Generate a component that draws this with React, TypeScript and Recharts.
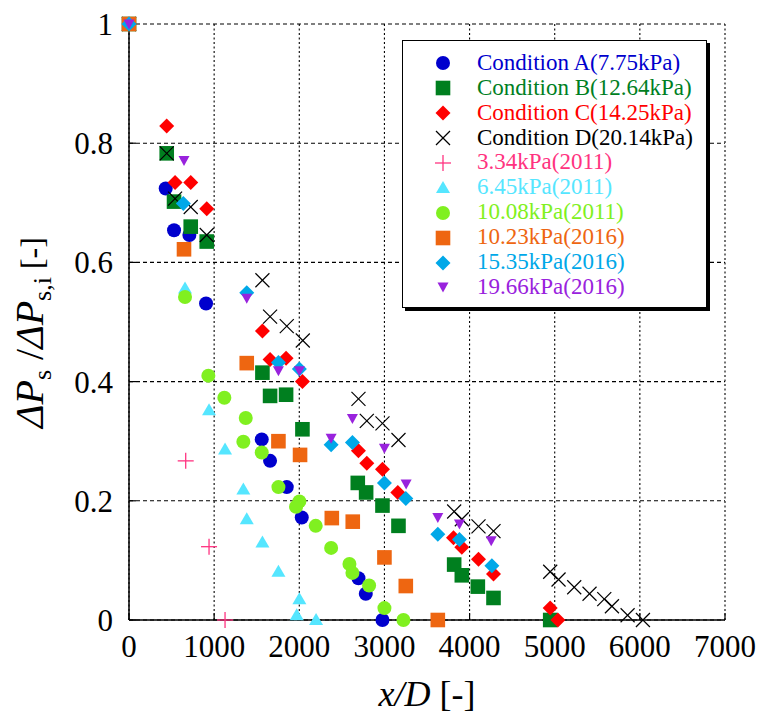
import {
  ScatterChart, Scatter, XAxis, YAxis, CartesianGrid, Legend, Label,
} from 'recharts';

// [x/D, dPs/dPs,i]
const conditionA = [
  [0, 1], [431, 0.724], [529, 0.654], [709, 0.646], [905, 0.531], [1559, 0.303], [1657, 0.267],
  [1853, 0.223], [2029, 0.172], [2695, 0.07], [2781, 0.044], [2977, 0],
];
const conditionB = [
  [0, 1], [443, 0.783], [529, 0.702], [725, 0.66], [913, 0.635], [1567, 0.415], [1657, 0.376],
  [1845, 0.378], [2037, 0.32], [2687, 0.23], [2785, 0.214], [2977, 0.192], [3165, 0.158],
  [3819, 0.093], [3909, 0.075], [4097, 0.056], [4281, 0.037], [4947, 0],
];
const conditionC = [
  [0, 1], [443, 0.829], [541, 0.734], [725, 0.734], [913, 0.69], [1567, 0.485], [1657, 0.437],
  [1845, 0.439], [2037, 0.4], [2695, 0.284], [2793, 0.263], [2977, 0.253], [3157, 0.214],
  [3811, 0.138], [3909, 0.122], [4105, 0.102], [4281, 0.077], [4947, 0.02], [5037, 0],
];
const conditionD = [
  [0, 1], [443, 0.783], [541, 0.707], [725, 0.693], [913, 0.646], [1567, 0.57], [1657, 0.509],
  [1853, 0.493], [2041, 0.469], [2695, 0.371], [2793, 0.334], [2977, 0.33], [3165, 0.302],
  [3819, 0.182], [3909, 0.169], [4105, 0.157], [4281, 0.149], [4947, 0.081], [5045, 0.068],
  [5229, 0.055], [5409, 0.044], [5582, 0.035], [5672, 0.023], [5856, 0.008], [6036, 0],
];
const kpa334_2011 = [[666, 0.267], [940, 0.123], [1128, 0]];
const kpa645_2011 = [
  [658, 0.556], [940, 0.352], [1128, 0.286], [1343, 0.219], [1383, 0.169], [1567, 0.13],
  [1755, 0.081], [2001, 0.035], [1970, 0.008], [2197, 0],
];
const kpa1008_2011 = [
  [658, 0.542], [932, 0.41], [1120, 0.373], [1371, 0.339], [1343, 0.299], [1559, 0.281],
  [1755, 0.223], [2001, 0.199], [1962, 0.19], [2193, 0.158], [2374, 0.121], [2589, 0.094],
  [2624, 0.079], [2820, 0.058], [3000, 0.02], [3223, 0],
];
const kpa1023_2016 = [
  [0, 1], [646, 0.622], [1383, 0.431], [1755, 0.3], [2009, 0.277], [2382, 0.171], [2628, 0.165],
  [3000, 0.105], [3251, 0.057], [3627, 0],
];
const kpa1535_2016 = [
  [0, 1], [638, 0.699], [1383, 0.549], [1755, 0.432], [2001, 0.421], [2374, 0.294], [2624, 0.298],
  [3000, 0.23], [3251, 0.204], [3627, 0.144], [3881, 0.135], [4262, 0.091],
];
const kpa1966_2016 = [
  [0, 1], [646, 0.771], [1383, 0.54], [1755, 0.418], [2001, 0.418], [2374, 0.305], [2624, 0.338],
  [3000, 0.288], [3255, 0.228], [3627, 0.172], [3881, 0.161], [4254, 0.133],
];

const xTicks = [0, 1000, 2000, 3000, 4000, 5000, 6000, 7000];
const yTicks = [0, 0.2, 0.4, 0.6, 0.8, 1];

type Kind = 'circle' | 'square' | 'diamond' | 'x' | 'plus' | 'tri' | 'tridown';

const series: { name: string; data: number[][]; kind: Kind; color: string }[] = [
  { name: 'Condition A(7.75kPa)', data: conditionA, kind: 'circle', color: '#0000cd' },
  { name: 'Condition B(12.64kPa)', data: conditionB, kind: 'square', color: '#007f1f' },
  { name: 'Condition C(14.25kPa)', data: conditionC, kind: 'diamond', color: '#ff0000' },
  { name: 'Condition D(20.14kPa)', data: conditionD, kind: 'x', color: '#000000' },
  { name: '3.34kPa(2011)', data: kpa334_2011, kind: 'plus', color: '#ff3380' },
  { name: '6.45kPa(2011)', data: kpa645_2011, kind: 'tri', color: '#55e6ff' },
  { name: '10.08kPa(2011)', data: kpa1008_2011, kind: 'circle', color: '#80f020' },
  { name: '10.23kPa(2016)', data: kpa1023_2016, kind: 'square', color: '#ee6611' },
  { name: '15.35kPa(2016)', data: kpa1535_2016, kind: 'diamond', color: '#00a8e8' },
  { name: '19.66kPa(2016)', data: kpa1966_2016, kind: 'tridown', color: '#9922dd' },
];

const FONT = '"Liberation Serif", "Times New Roman", serif';

function Marker({ kind, cx, cy, color }: { kind: Kind; cx: number; cy: number; color: string }) {
  switch (kind) {
    case 'circle':
      return <circle cx={cx} cy={cy} r={7} fill={color} />;
    case 'square':
      return <rect x={cx - 7.3} y={cy - 7.3} width={14.6} height={14.6} fill={color} />;
    case 'diamond':
      return <polygon points={`${cx},${cy - 7.5} ${cx + 7.5},${cy} ${cx},${cy + 7.5} ${cx - 7.5},${cy}`} fill={color} />;
    case 'x':
      return (
        <g stroke={color} strokeWidth={1.2}>
          <line x1={cx - 7} y1={cy - 7} x2={cx + 7} y2={cy + 7} />
          <line x1={cx - 7} y1={cy + 7} x2={cx + 7} y2={cy - 7} />
        </g>
      );
    case 'plus':
      return (
        <g stroke={color} strokeWidth={1.3}>
          <line x1={cx - 8} y1={cy} x2={cx + 8} y2={cy} />
          <line x1={cx} y1={cy - 8} x2={cx} y2={cy + 8} />
        </g>
      );
    case 'tri':
      return <polygon points={`${cx},${cy - 7} ${cx + 7},${cy + 5} ${cx - 7},${cy + 5}`} fill={color} />;
    case 'tridown':
      return <polygon points={`${cx - 5.5},${cy - 4.5} ${cx + 5.5},${cy - 4.5} ${cx},${cy + 5.5}`} fill={color} />;
  }
  return null;
}

function LegendBox() {
  return (
    <div style={{
      position: 'relative', width: 305, height: 268, boxSizing: 'border-box',
      border: '1.5px solid #000', boxShadow: '3px 3px 0 #000', background: '#fff',
      fontFamily: FONT, fontSize: 23,
    }}>
      {series.map((s, i) => (
        <div key={s.name} style={{
          position: 'absolute', left: 0, top: 22.3 + i * 24.9 - 12.45, height: 24.9,
          lineHeight: '24.9px', whiteSpace: 'nowrap', color: s.color,
        }}>
          <svg width={20} height={20} style={{ position: 'absolute', left: 30, top: 2.5 }}>
            <Marker kind={s.kind} cx={10} cy={10} color={s.color} />
          </svg>
          <span style={{ position: 'absolute', left: 74 }}>{s.name}</span>
        </div>
      ))}
    </div>
  );
}

function YTitle() {
  return (
    <text x={43} y={428} transform="rotate(-90 43 428)" fontFamily={FONT} fill="#000">
      <tspan fontStyle="italic" fontSize={40}>ΔP</tspan>
      <tspan fontSize={26} dy={8}>s</tspan>
      <tspan fontSize={40} dy={-8}> /</tspan>
      <tspan fontStyle="italic" fontSize={40}>ΔP</tspan>
      <tspan fontSize={26} dy={8}>s,i</tspan>
      <tspan fontSize={32} dy={-8}> [-]</tspan>
    </text>
  );
}

function XTitle() {
  return (
    <text x={427} y={706} textAnchor="middle" fontFamily={FONT} fontSize={36} fill="#000">
      <tspan fontStyle="italic">x/D</tspan>
      <tspan> [-]</tspan>
    </text>
  );
}

const tickStyle = { fontFamily: FONT, fontSize: 31, fill: '#000' };
const axisLine = { stroke: '#000', strokeWidth: 1.5 };
const tickLine = { stroke: '#000', strokeWidth: 1.2 };

export default function App() {
  return (
    <div style={{ position: 'absolute', left: 0, top: 0, width: 761, height: 718, background: '#fff' }}>
      <ScatterChart width={761} height={718} margin={{ top: 24, right: 36, bottom: 0, left: 0 }}>
        <CartesianGrid horizontal={false} stroke="#000" strokeWidth={1.1} strokeDasharray="2 2.5" />
        <CartesianGrid vertical={false} stroke="#000" strokeWidth={1.1} strokeDasharray="4 3" />
        <XAxis
          type="number" dataKey="x" domain={[0, 7000]} ticks={xTicks} interval={0} height={98}
          tick={tickStyle} tickSize={-7} tickMargin={22} axisLine={axisLine} tickLine={tickLine}
        >
          <Label content={<XTitle />} />
        </XAxis>
        <YAxis
          type="number" dataKey="y" domain={[0, 1]} ticks={yTicks} interval={0} width={129}
          tick={tickStyle} tickSize={-7} tickMargin={23} axisLine={axisLine} tickLine={tickLine}
        >
          <Label content={<YTitle />} />
        </YAxis>
        <XAxis
          xAxisId="top" orientation="top" type="number" domain={[0, 7000]} ticks={xTicks} interval={0}
          height={0} tick={false} tickSize={-7} axisLine={axisLine} tickLine={tickLine}
        />
        <YAxis
          yAxisId="right" orientation="right" type="number" domain={[0, 1]} ticks={yTicks} interval={0}
          width={0} tick={false} tickSize={-7} axisLine={axisLine} tickLine={tickLine}
        />
        {series.map(s => (
          <Scatter
            key={s.name}
            name={s.name}
            data={s.data.map(([x, y]) => ({ x, y }))}
            isAnimationActive={false}
            shape={(p: any) => <Marker kind={s.kind} cx={p.cx} cy={p.cy} color={s.color} />}
          />
        ))}
        <Legend
          layout="vertical" align="center" verticalAlign="middle"
          wrapperStyle={{ left: 402, top: 40, width: 305, height: 268 }}
          content={() => <LegendBox />}
        />
      </ScatterChart>
    </div>
  );
}
